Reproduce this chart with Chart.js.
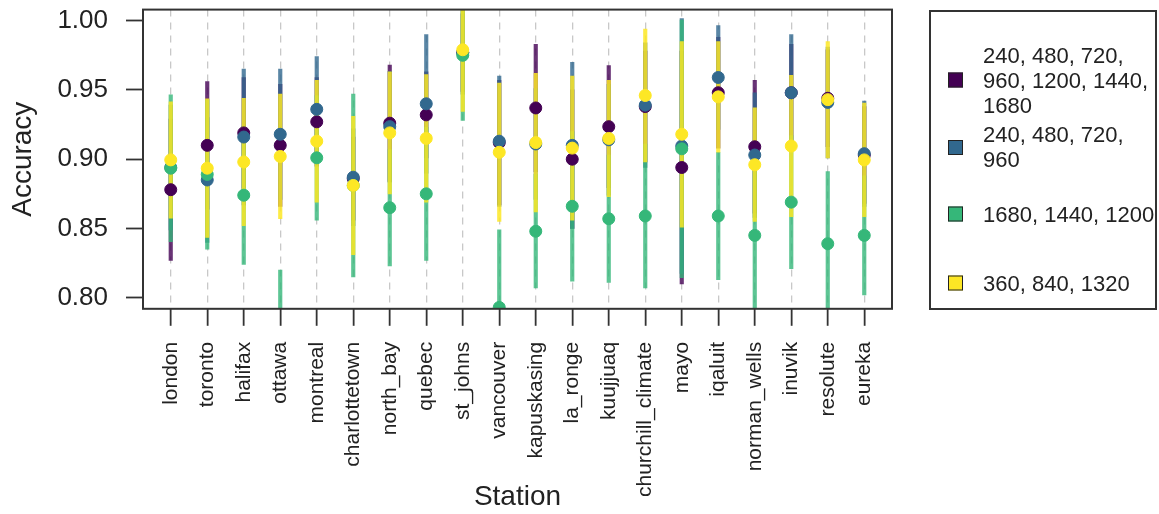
<!DOCTYPE html>
<html>
<head>
<meta charset="utf-8">
<script src="https://cdn.jsdelivr.net/npm/chart.js@4"></script>
<style>
  body { margin: 0; background: #fff; }
  #wrap { position: relative; width: 1159px; height: 514px; }
  #legend {
    position: absolute; left: 929px; top: 10px; width: 224px; height: 296px;
    border: 2px solid #333; font-family: "Liberation Sans", Arial, sans-serif;
    font-size: 22px; color: #222;
  }
  .item { position: absolute; left: 0; display: flex; align-items: center; transform: translateY(-50%); }
  .sw { width: 15px; height: 15px; border: 1px solid #222; box-sizing: border-box; margin-left: 17px; margin-right: 20px; }
  .txt { line-height: 25px; white-space: nowrap; }
</style>
</head>
<body>
<div id="wrap">
  <canvas id="accChart"></canvas>
  <div id="legend"></div>
</div>
<script>
const stations = ['london', 'toronto', 'halifax', 'ottawa', 'montreal', 'charlottetown', 'north_bay',
  'quebec', 'st_johns', 'vancouver', 'kapuskasing', 'la_ronge', 'kuujjuaq', 'churchill_climate',
  'mayo', 'iqaluit', 'norman_wells', 'inuvik', 'resolute', 'eureka'];

const legendLines = [
  ['240, 480, 720,', '960, 1200, 1440,', '1680'],
  ['240, 480, 720,', '960'],
  ['1680, 1440, 1200'],
  ['360, 840, 1320']
];
const legendCenters = [68, 135, 202, 271];

const colors = ['#440154', '#31688E', '#35B779', '#FDE725'];
const barColors = ['rgba(68,1,84,0.8)', 'rgba(49,104,142,0.8)', 'rgba(53,183,121,0.8)', 'rgba(253,231,37,0.85)'];

// mean accuracy per station
const meanA = [0.878, 0.910, 0.919, 0.910, 0.927, 0.886, 0.926, 0.932, 0.977, 0.912,
  0.937, 0.900, 0.9235, 0.938, 0.894, 0.948, 0.909, 0.948, 0.944, 0.903];
const meanB = [0.894, 0.885, 0.916, 0.918, 0.936, 0.887, 0.9235, 0.940, 0.977, 0.913,
  0.911, 0.910, 0.914, 0.939, 0.9095, 0.959, 0.903, 0.948, 0.941, 0.904];
const meanC = [0.8935, 0.889, 0.874, 0.770, 0.901, 0.881, 0.865, 0.875, 0.975, 0.793,
  0.848, 0.866, 0.857, 0.859, 0.9075, 0.859, 0.845, 0.869, 0.839, 0.845];
const meanD = [0.8995, 0.8935, 0.898, 0.902, 0.913, 0.881, 0.919, 0.915, 0.979, 0.905,
  0.912, 0.908, 0.915, 0.946, 0.918, 0.945, 0.896, 0.9095, 0.943, 0.8995];

// half length of the error bars
const sdA = [0.051, 0.046, 0.040, 0.044, 0.032, 0.030, 0.042, 0.031, 0.028, 0.045,
  0.046, 0.050, 0.044, 0.040, 0.084, 0.040, 0.048, 0.035, 0.035, 0.035];
const sdB = [0.045, 0.045, 0.049, 0.047, 0.038, 0.035, 0.040, 0.050, 0.030, 0.047,
  0.040, 0.060, 0.040, 0.045, 0.092, 0.0375, 0.045, 0.042, 0.040, 0.038];
const sdC = [0.053, 0.054, 0.050, 0.050, 0.045, 0.066, 0.042, 0.048, 0.047, 0.056,
  0.041, 0.054, 0.046, 0.052, 0.093, 0.046, 0.060, 0.048, 0.052, 0.043];
const sdD = [0.042, 0.050, 0.046, 0.045, 0.044, 0.050, 0.044, 0.046, 0.0445, 0.050,
  0.050, 0.052, 0.042, 0.048, 0.067, 0.040, 0.041, 0.051, 0.042, 0.041];

const yTicks = [0.80, 0.85, 0.90, 0.95, 1.00];

const FONT = '"Liberation Sans", Arial, sans-serif';

// legend
const legendEl = document.getElementById('legend');
legendLines.forEach((lines, k) => {
  const item = document.createElement('div');
  item.className = 'item';
  item.style.top = legendCenters[k] + 'px';
  const sw = document.createElement('div');
  sw.className = 'sw';
  sw.style.background = colors[k];
  const txt = document.createElement('div');
  txt.className = 'txt';
  txt.innerHTML = lines.join('<br>');
  item.appendChild(sw);
  item.appendChild(txt);
  legendEl.appendChild(item);
});

const means = [meanA, meanB, meanC, meanD];
const spreads = [sdA, sdB, sdC, sdD];
const datasets = [];
means.forEach((m, k) => {
  datasets.push({
    type: 'bar',
    label: legendLines[k].join(' '),
    data: m.map((v, i) => ({ x: i + 1, y: [v - spreads[k][i], v + spreads[k][i]] })),
    backgroundColor: barColors[k],
    borderWidth: 0,
    barThickness: 3.5,
    grouped: false,
    order: 8 - k
  });
  datasets.push({
    type: 'scatter',
    label: legendLines[k].join(' '),
    data: m.map((v, i) => ({ x: i + 1, y: v })),
    backgroundColor: colors[k],
    borderColor: colors[k],
    borderWidth: 1,
    pointRadius: 6,
    order: 4 - k
  });
});

const frame = {
  id: 'frame',
  afterDraw(chart) {
    const { ctx, chartArea: a } = chart;
    ctx.save();
    ctx.strokeStyle = '#333';
    ctx.lineWidth = 2;
    ctx.strokeRect(a.left, a.top, a.right - a.left, a.bottom - a.top);
    ctx.restore();
  }
};

const ctx = document.getElementById('accChart').getContext('2d');
new Chart(ctx, {
  type: 'scatter',
  data: { datasets: datasets },
  options: {
    responsive: true,
    maintainAspectRatio: false,
    animation: false,
    layout: { padding: { top: 9.6, right: 267, left: 0, bottom: 0 } },
    plugins: { legend: { display: false }, tooltip: { enabled: false } },
    scales: {
      x: {
        type: 'linear',
        min: 0.24,
        max: 20.76,
        offset: false,
        afterBuildTicks: (scale) => { scale.ticks = stations.map((s, i) => ({ value: i + 1 })); },
        afterFit: (scale) => {
          scale.height = 205.2;
          scale.paddingLeft = 0;
          scale.paddingRight = 0;
        },
        ticks: {
          autoSkip: false,
          minRotation: 90,
          maxRotation: 90,
          padding: 16,
          color: '#222',
          font: { family: FONT, size: 21 },
          callback: (value) => stations[value - 1]
        },
        grid: { offset: false, color: '#c8c8c8', lineWidth: 1.3, tickColor: '#333', tickWidth: 1.8, tickLength: 17 },
        border: { display: false, dash: [7, 6] },
        title: { display: true, text: 'Station', color: '#222', font: { family: FONT, size: 28 }, padding: { top: 0, bottom: 0 } }
      },
      y: {
        min: 0.792,
        max: 1.008,
        afterBuildTicks: (scale) => { scale.ticks = yTicks.map(v => ({ value: v })); },
        afterFit: (scale) => {
          scale.width = 143;
          scale.paddingTop = 0;
          scale.paddingBottom = 0;
        },
        ticks: {
          padding: 18,
          color: '#222',
          font: { family: FONT, size: 26 },
          callback: (value) => value.toFixed(2)
        },
        grid: { drawOnChartArea: false, tickColor: '#333', tickWidth: 1.8, tickLength: 17 },
        border: { display: false },
        title: { display: true, text: 'Accuracy', color: '#222', font: { family: FONT, size: 28 }, padding: { top: 6, bottom: 0 } }
      }
    }
  },
  plugins: [frame]
});
</script>
</body>
</html>
